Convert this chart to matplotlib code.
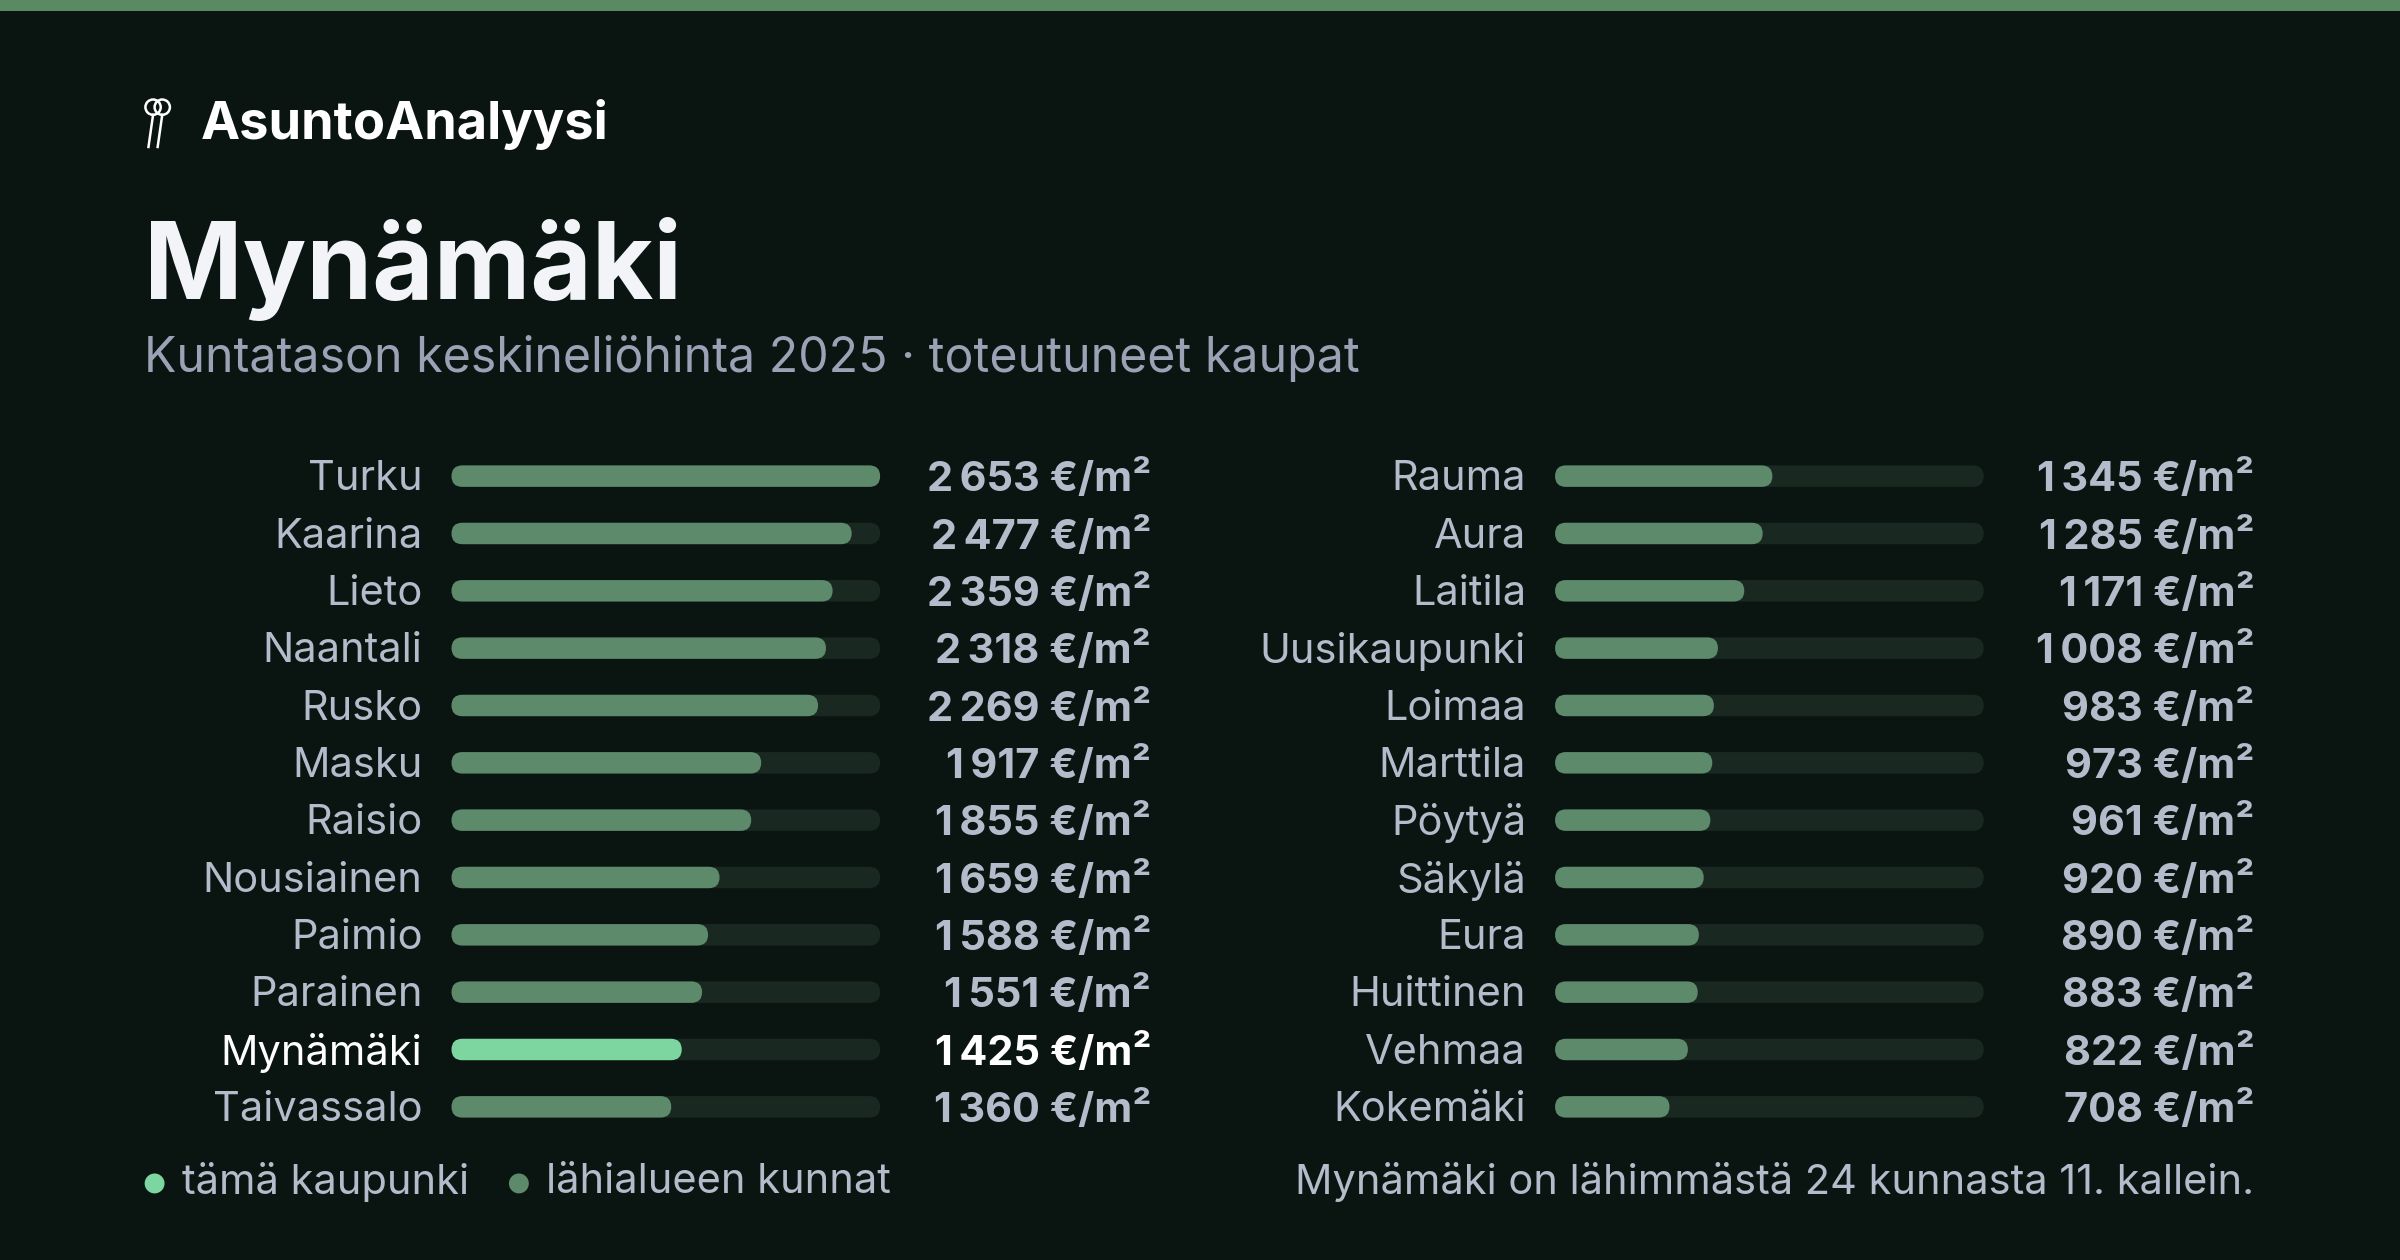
import matplotlib.pyplot as plt
from matplotlib.patches import FancyBboxPatch, Circle, Rectangle

plt.rcParams['font.family'] = ['Inter', 'DejaVu Sans']

left_names = ["Turku", "Kaarina", "Lieto", "Naantali", "Rusko", "Masku", "Raisio",
              "Nousiainen", "Paimio", "Parainen", "Mynämäki", "Taivassalo"]
left_values = [2653, 2477, 2359, 2318, 2269, 1917, 1855, 1659, 1588, 1551, 1425, 1360]
right_names = ["Rauma", "Aura", "Laitila", "Uusikaupunki", "Loimaa", "Marttila", "Pöytyä",
               "Säkylä", "Eura", "Huittinen", "Vehmaa", "Kokemäki"]
right_values = [1345, 1285, 1171, 1008, 983, 973, 961, 920, 890, 883, 822, 708]
highlight = "Mynämäki"

BG = "#0a1512"
TRACK = "#1a2822"
BAR = "#5e8a6c"
HI = "#7dd6a0"
TXT = "#b4bccb"
W, H = 1568, 823


def fs(cap):
    # display-pixel cap height -> points in the 2400px output
    return cap / 0.73 * (2400 / W) * 0.72


fig = plt.figure(figsize=(24, 12.6), dpi=100, facecolor=BG)
ax = fig.add_axes([0, 0, 1, 1])
ax.set_xlim(0, W)
ax.set_ylim(H, 0)
ax.axis("off")
ax.set_facecolor(BG)

ax.add_patch(Rectangle((0, 0), W, 7, color="#5a8a64", lw=0))

# key icon
for dx in (0, 6):
    ax.add_patch(Circle((100 + dx, 70), 5, fill=False, ec="white", lw=1.8))
    ax.plot([100 + dx, 100 + dx - 3], [75, 96], color="white", lw=1.8)
ax.text(131, 81, "AsuntoAnalyysi", color="white", fontsize=fs(25), fontweight="bold", va="center")
ax.text(94, 195, "Mynämäki", color="#f2f4f8", fontsize=fs(50.5), fontweight="bold", va="baseline")
ax.text(94, 243, "Kuntatason keskineliöhinta 2025 · toteutuneet kaupat", color="#9aa3b5",
        fontsize=fs(23), va="baseline")

vmax = max(left_values)
y0, dy, bh, track_w = 311, 37.45, 14, 280


def column(names, values, label_x, track_x, value_x):
    for i, (n, v) in enumerate(zip(names, values)):
        y = y0 + i * dy
        is_hi = n == highlight
        ax.add_patch(FancyBboxPatch((track_x, y - bh / 2), track_w, bh,
                                    boxstyle="round,pad=0,rounding_size=7", fc=TRACK, ec="none"))
        ax.add_patch(FancyBboxPatch((track_x, y - bh / 2), track_w * v / vmax, bh,
                                    boxstyle="round,pad=0,rounding_size=7",
                                    fc=HI if is_hi else BAR, ec="none"))
        ax.text(label_x, y + 2, n, ha="right", va="center", fontsize=fs(19.8),
                color="white" if is_hi else TXT)
        s = f"{v:,}".replace(",", "\u202f") + " €/m²"
        ax.text(value_x, y + 2, s, ha="right", va="center", fontsize=fs(19.8), fontweight="bold",
                color="white" if is_hi else TXT)


column(left_names, left_values, 276, 295, 752)
column(right_names, right_values, 997, 1016, 1473)

ax.add_patch(Circle((101, 773), 6.5, color=HI, lw=0))
ax.text(119, 772, "tämä kaupunki", color=TXT, fontsize=fs(19.8), va="center")
ax.add_patch(Circle((339, 773), 6.5, color=BAR, lw=0))
ax.text(357, 772, "lähialueen kunnat", color=TXT, fontsize=fs(19.8), va="center")
ax.text(1473, 772, "Mynämäki on lähimmästä 24 kunnasta 11. kallein.", color=TXT,
        fontsize=fs(19.8), va="center", ha="right")

fig.savefig("out.png", dpi=100, facecolor=BG)
